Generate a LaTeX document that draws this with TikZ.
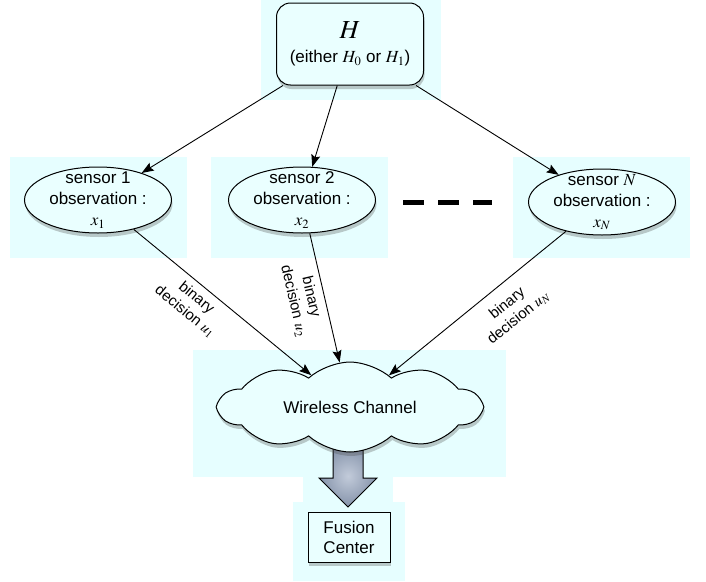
\documentclass[tikz,border=0pt]{standalone}
\usepackage{mathptmx}
\usepackage[no-math]{fontspec}
\setmainfont{Liberation Sans}
\usetikzlibrary{arrows.meta,shapes.geometric,shapes.symbols,shadows}
\definecolor{panel}{HTML}{E6FEFF}
\definecolor{nodefill}{HTML}{EAFFFF}
\definecolor{arrlight}{HTML}{C2CBDA}
\definecolor{arrdark}{HTML}{8593AA}
\tikzstyle{ar} = [-{Stealth[length=12pt,width=9pt,inset=2pt]}, line width=0.9pt]
\tikzstyle{pn} = [fill=panel, draw=none]
\tikzstyle{shd} = [drop shadow={shadow xshift=1pt, shadow yshift=-4pt, opacity=0.3, fill=black!70}]
\tikzstyle{hyp} = [draw, line width=1pt, fill=nodefill, rounded corners=14pt, shd,
  minimum width=147pt, minimum height=82pt, align=center, font=\fontsize{17}{20}\selectfont]
\tikzstyle{sensor} = [ellipse, draw, line width=1pt, fill=nodefill, shd, inner sep=0pt,
  minimum width=147pt, minimum height=66pt]
\tikzstyle{stxt} = [align=center, inner sep=0pt, font=\fontsize{17}{21}\selectfont]
\tikzstyle{lbl} = [align=center, sloped, below, inner sep=6pt, font=\fontsize{15}{18}\selectfont]
\tikzstyle{cloudy} = [cloud, draw, line width=1pt, fill=nodefill, shd, cloud puffs=10, cloud puff arc=85,
  aspect=2.9, minimum width=262pt, minimum height=90pt, font=\fontsize{17}{20}\selectfont]
\tikzstyle{fusion} = [draw, line width=1pt, fill=nodefill, shd, minimum width=82pt, minimum height=50pt,
  align=center, font=\fontsize{17}{20}\selectfont]
\tikzstyle{blk} = [draw, line width=1pt, line join=miter, shading=radial, inner color=arrlight, outer color=arrdark]
\tikzstyle{gap3} = [line width=5pt, dash pattern=on 21pt off 14pt]

\begin{document}
\begin{tikzpicture}[x=1pt,y=1pt]
\useasboundingbox (0,0) rectangle (706,-581);
% pale backgrounds
\fill[pn] (261,0) rectangle (441,-100);
\fill[pn] (10,-157) rectangle (187,-258);
\fill[pn] (211,-157) rectangle (388,-258);
\fill[pn] (513,-157) rectangle (690,-258);
\fill[pn] (193,-350) rectangle (506,-477);
\fill[pn] (303,-470) rectangle (393,-505);
\fill[pn] (293,-502) rectangle (405,-581);

\node[hyp] (H) at (350,-44) {{\fontsize{26}{28}\selectfont $H$}\\[4pt](either $H_0$ or $H_1$)};

\node[sensor, label={[stxt]center:{sensor 1\\observation :\\$x_1$}}] (s1) at (98,-200) {};
\node[sensor, label={[stxt]center:{sensor 2\\observation :\\$x_2$}}] (s2) at (302,-200) {};
\node[sensor, label={[stxt]center:{sensor $N$\\observation :\\$x_N$}}] (sN) at (602,-202) {};
\draw[gap3] (403,-202) -- (492,-202);

% fat arrow to the fusion center
\draw[blk] (333,-445) -- (363,-445) -- (363,-478) -- (377,-478) -- (348,-507)
  -- (319,-478) -- (333,-478) -- cycle;
\node[cloudy] (cloud) at (350,-407) {Wireless Channel};
\node[fusion] (fc) at (349,-537) {Fusion\\Center};

\draw[ar] (H) -- (s1);
\draw[ar] (H) -- (s2);
\draw[ar] (H) -- (sN);
\draw[ar] (s1) -- node[lbl, pos=0.4] {binary\\decision $u_1$} (cloud);
\draw[ar] (s2) -- node[lbl, pos=0.47] {binary\\decision $u_2$} (cloud);
\draw[ar] (sN) -- node[lbl, pos=0.4, inner sep=12pt] {binary\\decision $u_N$} (cloud);
\end{tikzpicture}
\end{document}
